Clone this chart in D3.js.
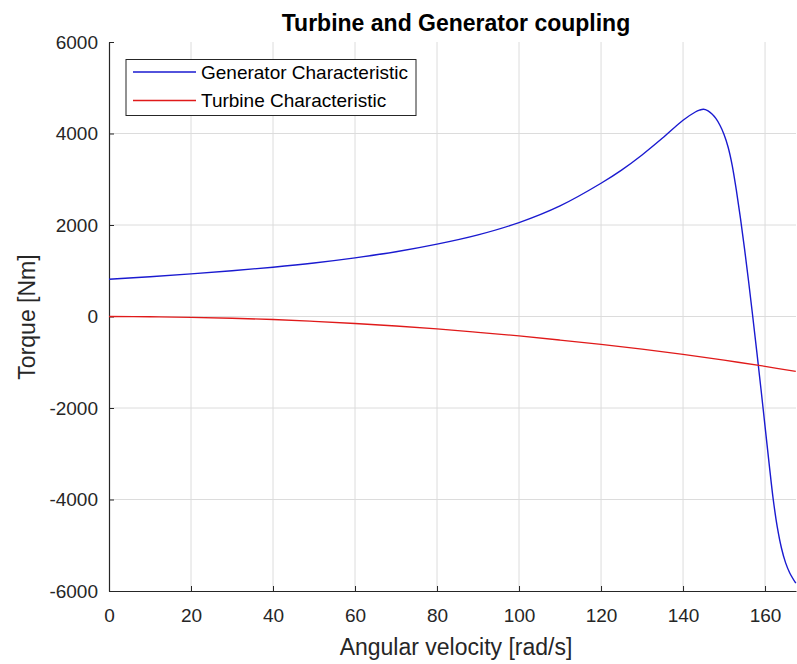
<!DOCTYPE html>
<html lang="en">
<head>
<meta charset="utf-8">
<title>Turbine and Generator coupling</title>
<script src="https://cdn.jsdelivr.net/npm/d3@7"></script>
<style>
  body { margin: 0; background: #fff; }
  text { font-family: "Liberation Sans", Arial, sans-serif; }
</style>
</head>
<body>
<script>
// angular velocity samples [rad/s] and torques [Nm]
var genSpeed = [0, 10, 20, 30, 40, 50, 60, 70, 80, 90, 100, 110, 120, 125, 130, 135, 140, 143, 144, 145, 146, 147, 148, 149, 150, 151, 152, 153, 154, 155, 156, 157, 158, 159, 160, 161, 162, 163, 164, 165, 166, 167.5];
var genTorque = [815, 870, 932, 1000, 1078, 1170, 1282, 1415, 1581, 1784, 2053, 2418, 2913, 3200, 3531, 3900, 4290, 4470, 4510, 4530, 4500, 4430, 4330, 4180, 3980, 3700, 3300, 2760, 2150, 1480, 760, 0, -780, -1580, -2400, -3220, -4000, -4610, -5060, -5380, -5600, -5830];

var turbSpeed = [0, 10, 20, 30, 40, 50, 60, 70, 80, 90, 100, 110, 120, 130, 140, 150, 160, 167.5];
var turbTorque = [0, -5, -18, -38, -66, -105, -153, -208, -270, -345, -425, -515, -610, -715, -830, -955, -1090, -1200];

var xTicks = [0, 20, 40, 60, 80, 100, 120, 140, 160];
var yTicks = [-6000, -4000, -2000, 0, 2000, 4000, 6000];

var seriesNames = ["Generator Characteristic", "Turbine Characteristic"];
var seriesColors = ["#1a1ad0", "#e01a1a"];

var w = 797, h = 664;
var padL = 109, padT = 42, padB = 591, padR = 796;

var x = d3.scaleLinear().domain([0, 167.55]).range([padL, padR]);
var y = d3.scaleLinear().domain([-6000, 6000]).range([padB, padT]);

var svg = d3.select("body").append("svg")
    .attr("width", w)
    .attr("height", h);

svg.append("rect").attr("width", w).attr("height", h).attr("fill", "#fff");

// grid
svg.append("g").selectAll("line")
    .data(xTicks.slice(1))
    .enter().append("line")
    .attr("x1", function(d){ return x(d); })
    .attr("x2", function(d){ return x(d); })
    .attr("y1", padT).attr("y2", padB)
    .attr("stroke", "#dcdcdc").attr("stroke-width", 1);

svg.append("g").selectAll("line")
    .data(yTicks.slice(1, -1))
    .enter().append("line")
    .attr("y1", function(d){ return y(d); })
    .attr("y2", function(d){ return y(d); })
    .attr("x1", padL).attr("x2", padR)
    .attr("stroke", "#dcdcdc").attr("stroke-width", 1);

// axes - plain numbers, ascii minus like matlab
var plain = function(d){ return String(d); };
var xAxis = d3.axisBottom(x).tickValues(xTicks).tickFormat(plain).tickSizeInner(-5).tickSizeOuter(0).tickPadding(18);
var yAxis = d3.axisLeft(y).tickValues(yTicks).tickFormat(plain).tickSizeInner(-5).tickSizeOuter(0).tickPadding(11);

var gx = svg.append("g").attr("transform", "translate(0," + padB + ")").call(xAxis);
var gy = svg.append("g").attr("transform", "translate(" + padL + ",0)").call(yAxis);

[gx, gy].forEach(function(g){
    g.select(".domain").attr("stroke", "#262626").attr("stroke-width", 1.2);
    g.selectAll(".tick line").attr("stroke", "#262626");
    g.selectAll(".tick text")
        .attr("fill", "#262626")
        .style("font-size", "19px")
        .style("font-family", "'Liberation Sans', Arial, sans-serif");
});

// lines
var line = d3.line()
    .x(function(d){ return x(d[0]); })
    .y(function(d){ return y(d[1]); })
    .curve(d3.curveCatmullRom);

var genData = d3.zip(genSpeed, genTorque);
var turbData = d3.zip(turbSpeed, turbTorque);

svg.append("path")
    .datum(genData)
    .attr("fill", "none")
    .attr("stroke", seriesColors[0])
    .attr("stroke-width", 1.4)
    .attr("d", line);

svg.append("path")
    .datum(turbData)
    .attr("fill", "none")
    .attr("stroke", seriesColors[1])
    .attr("stroke-width", 1.3)
    .attr("d", line);

// title and labels
svg.append("text")
    .attr("x", 456).attr("y", 31)
    .attr("text-anchor", "middle")
    .style("font-size", "23px")
    .style("font-weight", "bold")
    .attr("fill", "#000")
    .text("Turbine and Generator coupling");

svg.append("text")
    .attr("x", 456).attr("y", 655)
    .attr("text-anchor", "middle")
    .style("font-size", "23px")
    .attr("fill", "#262626")
    .text("Angular velocity [rad/s]");

svg.append("text")
    .attr("transform", "translate(35,317) rotate(-90)")
    .attr("text-anchor", "middle")
    .style("font-size", "23px")
    .attr("fill", "#262626")
    .text("Torque [Nm]");

// legend
var legend = svg.append("g");
legend.append("rect")
    .attr("x", 126).attr("y", 59.5)
    .attr("width", 290).attr("height", 56)
    .attr("fill", "#fff")
    .attr("stroke", "#262626")
    .attr("stroke-width", 1);

for (var i = 0; i < seriesNames.length; i++) {
    var ly = 72 + i * 28.5;
    legend.append("line")
        .attr("x1", 133).attr("x2", 196)
        .attr("y1", ly).attr("y2", ly)
        .attr("stroke", seriesColors[i])
        .attr("stroke-width", 1.3);
    legend.append("text")
        .attr("x", 201).attr("y", ly + 6.5)
        .style("font-size", "19px")
        .attr("fill", "#000")
        .text(seriesNames[i]);
}
</script>
</body>
</html>
